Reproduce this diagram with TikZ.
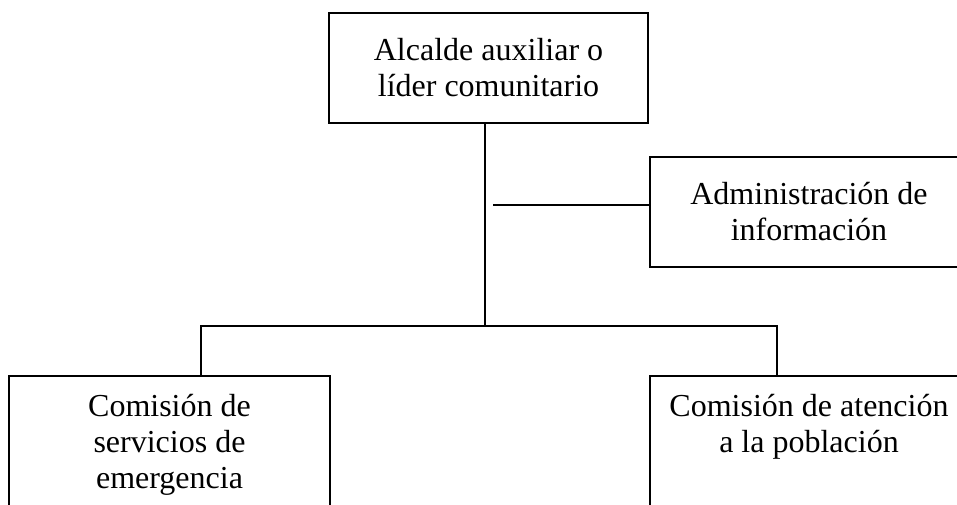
\documentclass[tikz,border=0pt]{standalone}
\usepackage{fontspec}
\setmainfont{Liberation Serif}
\usepackage{tikz}

\begin{document}
\begin{tikzpicture}[
                x=0.75pt, y=-0.75pt,
                unit/.style={draw, line width=1.5pt, rectangle, inner sep=0pt, align=center,
                    font=\fontsize{24}{27}\selectfont},
                label text/.style={inner sep=0pt, align=center, anchor=north,
                    font=\fontsize{24}{27}\selectfont},
                link/.style={line width=2.1pt}
            ]
            \clip (0, 0) rectangle (957, 505);
            \useasboundingbox (0, 0) rectangle (957, 505);
            \node[unit, minimum width=319*0.75pt, minimum height=110*0.75pt] (top) at (488.5, 68) {Alcalde auxiliar o\\líder comunitario};
            \node[unit, minimum width=318*0.75pt, minimum height=110*0.75pt] (admin) at (809, 212) {Administración de\\información};
            \node[unit, anchor=north, minimum width=321*0.75pt, minimum height=160*0.75pt] (left) at (169.5, 375) {};
            \node[unit, anchor=north, minimum width=318*0.75pt, minimum height=160*0.75pt] (right) at (809, 375) {};
            \node[label text] (lefttext) at ([yshift=-14pt]left.north) {Comisión de\\servicios de\\emergencia};
            \node[label text] (righttext) at ([yshift=-14pt]right.north) {Comisión de atención\\a la población};
            \coordinate (hub) at (485, 326);
            \coordinate (tap) at (493, 205);
            \draw[link] (top.south -| hub) -- (hub);
            \draw[link] (tap) -- (tap -| admin.west);
            \draw[link] ([xshift=23.6pt]left.north) |- (hub) -| ([xshift=-24pt]right.north);
        \end{tikzpicture}
\end{document}
